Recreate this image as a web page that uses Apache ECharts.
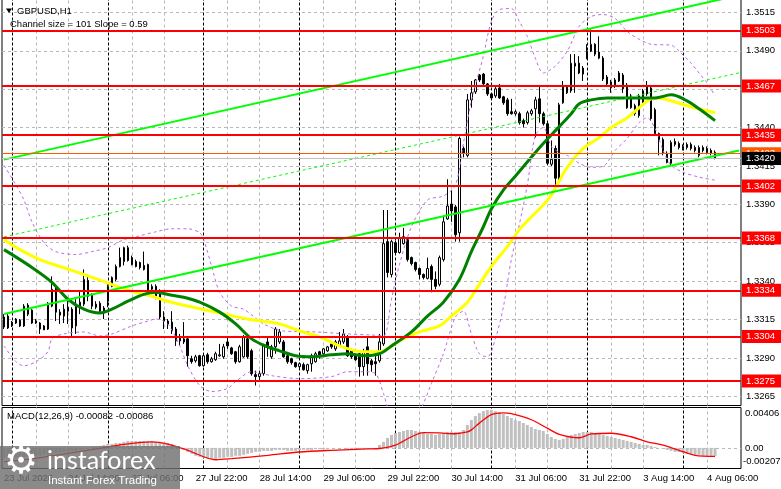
<!DOCTYPE html>
<html><head><meta charset="utf-8">
<script src="https://cdn.jsdelivr.net/npm/echarts@6/dist/echarts.min.js"></script>
<style>html,body{margin:0;padding:0;background:#fff}#c{width:781px;height:489px}</style>
</head><body><div id="c"></div>
<script>
// ---------- data ----------
const days = [['23 Jul',22,23],['24 Jul',0,23],['27 Jul',0,23],['28 Jul',0,23],['29 Jul',0,23],['30 Jul',0,23],['31 Jul',0,23],['3 Aug',0,23],['4 Aug',0,8]];
const emptySlots = 6;
const xTickTimes = ['23 Jul 22:00','24 Jul 14:00','27 Jul 06:00','27 Jul 22:00','28 Jul 14:00','29 Jul 06:00','29 Jul 22:00','30 Jul 14:00','31 Jul 06:00','31 Jul 22:00','3 Aug 14:00','4 Aug 06:00'];
const firstTickText = '23 Jul 2026';
const priceTicks = [1.3265,1.3290,1.3315,1.3340,1.3365,1.3390,1.3415,1.3440,1.3465,1.3490,1.3515];
const levels = [1.3503,1.3467,1.3435,1.3402,1.3368,1.3334,1.3304,1.3275];
const askPrice = 1.3423;
const macdTicks = [-0.00207, 0, 0.00406];

const opens = [1.33166,1.33172,1.33108,1.33127,1.33146,1.33108,1.33243,1.33211,1.33140,1.33127,
1.33108,1.33088,1.33237,1.33360,1.33198,1.33172,1.33230,1.33217,1.33108,1.33237,
1.33250,1.33405,1.33308,1.33250,1.33256,1.33224,1.33269,1.33366,1.33411,1.33495,
1.33527,1.33534,1.33553,1.33527,1.33521,1.33502,1.33508,1.33347,1.33366,1.33334,
1.33166,1.33140,1.33133,1.33088,1.33037,1.33004,1.33024,1.32894,1.32881,1.32914,
1.32849,1.32920,1.32875,1.32888,1.32914,1.32907,1.33004,1.32965,1.32940,1.32875,
1.32907,1.33024,1.32946,1.32791,1.32778,1.32797,1.33004,1.32907,1.32972,1.33004,
1.33004,1.32914,1.32894,1.32869,1.32843,1.32856,1.32817,1.32862,1.32875,1.32940,
1.32927,1.32946,1.32991,1.32959,1.32978,1.33004,1.33037,1.32946,1.32914,1.32927,
1.32843,1.32972,1.32881,1.32875,1.32881,1.32991,1.33657,1.33443,1.33650,1.33586,
1.33644,1.33670,1.33553,1.33521,1.33482,1.33443,1.33418,1.33495,1.33411,1.33379,
1.33540,1.33805,1.33902,1.33883,1.33715,1.34264,1.34219,1.34580,1.34632,1.34742,
1.34748,1.34684,1.34619,1.34606,1.34658,1.34600,1.34580,1.34503,1.34490,1.34490,
1.34445,1.34432,1.34490,1.34522,1.34587,1.34490,1.34425,1.34161,1.34264,1.34057,
1.34561,1.34626,1.34639,1.34800,1.34819,1.34787,1.34852,1.34897,1.34942,1.34891,
1.34852,1.34729,1.34697,1.34671,1.34703,1.34742,1.34677,1.34606,1.34542,1.34477,
1.34561,1.34619,1.34658,1.34516,1.34361,1.34322,1.34232,1.34167,1.34290,1.34296,
1.34264,1.34270,1.34290,1.34270,1.34219,1.34270,1.34264,1.34251,1.34238];
const closes = [1.33101,1.33095,1.33133,1.33153,1.33108,1.33237,1.33185,1.33127,1.33127,1.33088,
1.33082,1.33256,1.33347,1.33198,1.33179,1.33217,1.33204,1.33095,1.33250,1.33263,
1.33411,1.33301,1.33237,1.33230,1.33204,1.33204,1.33366,1.33424,1.33495,1.33553,
1.33618,1.33618,1.33508,1.33495,1.33489,1.33476,1.33334,1.33366,1.33295,1.33166,
1.33140,1.33121,1.33075,1.33011,1.33011,1.33024,1.32914,1.32875,1.32907,1.32849,
1.32914,1.32875,1.32894,1.32927,1.32920,1.32972,1.32978,1.32927,1.32875,1.32972,
1.33037,1.32907,1.32797,1.32778,1.32797,1.32978,1.32972,1.32972,1.33088,1.33069,
1.32907,1.32875,1.32869,1.32843,1.32862,1.32823,1.32856,1.32914,1.32927,1.32907,
1.32959,1.32972,1.32972,1.33004,1.33011,1.33056,1.32914,1.32907,1.32888,1.32843,
1.32940,1.32862,1.32856,1.32862,1.33004,1.33644,1.33456,1.33657,1.33586,1.33683,
1.33689,1.33540,1.33514,1.33476,1.33443,1.33424,1.33482,1.33411,1.33366,1.33553,
1.33786,1.33889,1.33857,1.33702,1.34329,1.34232,1.34580,1.34626,1.34710,1.34710,
1.34684,1.34619,1.34593,1.34652,1.34593,1.34561,1.34490,1.34490,1.34503,1.34432,
1.34425,1.34496,1.34509,1.34580,1.34490,1.34425,1.34167,1.34193,1.34070,1.34548,
1.34671,1.34664,1.34819,1.34819,1.34755,1.34748,1.34897,1.34942,1.34878,1.34852,
1.34716,1.34684,1.34658,1.34710,1.34755,1.34652,1.34529,1.34529,1.34490,1.34606,
1.34639,1.34664,1.34458,1.34361,1.34316,1.34232,1.34173,1.34303,1.34309,1.34270,
1.34277,1.34290,1.34264,1.34251,1.34270,1.34251,1.34238,1.34232,1.34199];
const lows = [1.33088,1.33088,1.33101,1.33121,1.33101,1.33101,1.33172,1.33121,1.33121,1.33056,
1.33082,1.33082,1.33230,1.33140,1.33121,1.33127,1.33121,1.33037,1.33056,1.33185,
1.33237,1.33269,1.33217,1.33217,1.33192,1.33153,1.33230,1.33360,1.33398,1.33489,
1.33502,1.33527,1.33502,1.33489,1.33476,1.33469,1.33327,1.33334,1.33282,1.33153,
1.33088,1.33088,1.33056,1.32978,1.32978,1.32991,1.32843,1.32862,1.32869,1.32843,
1.32843,1.32862,1.32869,1.32881,1.32907,1.32894,1.32959,1.32920,1.32862,1.32869,
1.32901,1.32894,1.32784,1.32720,1.32752,1.32784,1.32907,1.32894,1.32927,1.32991,
1.32901,1.32862,1.32856,1.32836,1.32830,1.32817,1.32797,1.32810,1.32869,1.32894,
1.32920,1.32940,1.32959,1.32946,1.32972,1.32991,1.32907,1.32894,1.32881,1.32778,
1.32784,1.32784,1.32810,1.32784,1.32869,1.32978,1.33424,1.33424,1.33573,1.33579,
1.33637,1.33527,1.33502,1.33463,1.33411,1.33411,1.33411,1.33327,1.33347,1.33366,
1.33527,1.33799,1.33786,1.33657,1.33657,1.34206,1.34206,1.34529,1.34619,1.34697,
1.34671,1.34606,1.34580,1.34593,1.34587,1.34548,1.34477,1.34484,1.34477,1.34419,
1.34400,1.34419,1.34477,1.34335,1.34432,1.34413,1.34154,1.34148,1.33993,1.34012,
1.34555,1.34619,1.34626,1.34626,1.34748,1.34703,1.34845,1.34891,1.34865,1.34845,
1.34703,1.34671,1.34626,1.34658,1.34697,1.34626,1.34522,1.34522,1.34477,1.34464,
1.34555,1.34606,1.34445,1.34348,1.34219,1.34219,1.34167,1.34154,1.34277,1.34257,
1.34251,1.34257,1.34251,1.34238,1.34206,1.34238,1.34225,1.34219,1.34193];
const highs = [1.33185,1.33185,1.33140,1.33159,1.33153,1.33250,1.33256,1.33217,1.33153,1.33133,
1.33114,1.33263,1.33431,1.33366,1.33217,1.33250,1.33282,1.33230,1.33282,1.33334,
1.33476,1.33443,1.33321,1.33269,1.33269,1.33237,1.33379,1.33431,1.33508,1.33618,
1.33624,1.33631,1.33566,1.33540,1.33527,1.33592,1.33514,1.33379,1.33379,1.33347,
1.33204,1.33153,1.33204,1.33101,1.33056,1.33133,1.33037,1.32914,1.32920,1.32920,
1.32927,1.32933,1.32907,1.32940,1.32991,1.32991,1.33037,1.32972,1.32946,1.32985,
1.33049,1.33043,1.32959,1.32817,1.32817,1.32991,1.33037,1.32985,1.33101,1.33088,
1.33017,1.32927,1.32901,1.32875,1.32869,1.32869,1.32862,1.32927,1.32940,1.32946,
1.32965,1.32978,1.32998,1.33017,1.33069,1.33088,1.33049,1.32959,1.32927,1.32940,
1.32959,1.33037,1.32894,1.32940,1.33056,1.33863,1.33863,1.33670,1.33663,1.33715,
1.33747,1.33683,1.33560,1.33527,1.33489,1.33450,1.33553,1.33508,1.33463,1.33566,
1.33818,1.34063,1.33993,1.33896,1.34341,1.34277,1.34619,1.34703,1.34716,1.34748,
1.34755,1.34690,1.34626,1.34664,1.34684,1.34606,1.34593,1.34587,1.34516,1.34503,
1.34458,1.34509,1.34522,1.34600,1.34671,1.34503,1.34445,1.34316,1.34283,1.34561,
1.34703,1.34677,1.34878,1.34878,1.34865,1.34800,1.34942,1.35039,1.34949,1.34994,
1.34865,1.34742,1.34710,1.34723,1.34768,1.34755,1.34690,1.34619,1.34555,1.34619,
1.34652,1.34703,1.34671,1.34529,1.34367,1.34335,1.34245,1.34316,1.34329,1.34309,
1.34290,1.34303,1.34303,1.34283,1.34283,1.34283,1.34277,1.34264,1.34251];

// moving averages / bands read at sample bars: [bar, price]
const maGreen = [[0,1.33605],[7,1.33489],[12,1.33392],[16,1.33282],[20,1.33217],[24,1.33192],[27,1.33217],[31,1.33269],[35,1.33314],[38,1.33327],[42,1.33308],[45,1.33295],[49,1.33263],[54,1.33198],[58,1.33121],[62,1.33024],[66,1.32972],[69,1.32946],[73,1.32914],[77,1.32907],[82,1.32920],[86,1.32927],[90,1.32914],[94,1.32927],[97,1.32978],[102,1.33069],[106,1.33172],[110,1.33263],[114,1.33411],[117,1.33592],[120,1.33754],[122,1.33870],[125,1.33993],[128,1.34083],[132,1.34206],[135,1.34296],[139,1.34406],[142,1.34490],[144,1.34555],[147,1.34580],[151,1.34593],[155,1.34593],[159,1.34593],[163,1.34593],[167,1.34613],[171,1.34574],[174,1.34522],[178,1.34445]];
const maYellow = [[0,1.33670],[4,1.33605],[9,1.33540],[14,1.33495],[20,1.33443],[27,1.33379],[32,1.33334],[37,1.33301],[41,1.33269],[45,1.33243],[52,1.33204],[61,1.33153],[69,1.33121],[74,1.33075],[79,1.33037],[84,1.32978],[90,1.32940],[94,1.32940],[99,1.33011],[104,1.33069],[109,1.33108],[112,1.33172],[116,1.33263],[119,1.33379],[122,1.33495],[126,1.33624],[129,1.33734],[132,1.33818],[135,1.33896],[137,1.33960],[141,1.34141],[145,1.34264],[149,1.34335],[152,1.34400],[156,1.34464],[159,1.34529],[162,1.34587],[164,1.34593],[167,1.34574],[172,1.34535],[178,1.34496]];
const bandUpper = [[0,1.34154],[3,1.34025],[5,1.33928],[7,1.33786],[10,1.33650],[13,1.33592],[18,1.33573],[22,1.33592],[26,1.33618],[30,1.33670],[34,1.33695],[38,1.33721],[42,1.33741],[46,1.33741],[49,1.33715],[50,1.33670],[52,1.33495],[54,1.33327],[57,1.33237],[60,1.33217],[65,1.33121],[70,1.33075],[78,1.33069],[86,1.33056],[92,1.33049],[95,1.33043],[97,1.33282],[99,1.33508],[102,1.33754],[106,1.33928],[110,1.33954],[113,1.34025],[115,1.34296],[117,1.34574],[120,1.34865],[122,1.35091],[124,1.35168],[127,1.35175],[129,1.35091],[131,1.34994],[133,1.34852],[135,1.34755],[138,1.34800],[141,1.34897],[144,1.35059],[147,1.35123],[150,1.35136],[153,1.35110],[156,1.35026],[159,1.34975],[162,1.34942],[167,1.34936],[169,1.34897],[172,1.34819],[174,1.34755],[176,1.34690],[178,1.34606]];
const bandLower = [[0,1.32978],[3,1.32875],[5,1.32849],[8,1.32875],[11,1.32940],[12,1.33024],[15,1.33056],[20,1.33069],[24,1.33043],[27,1.33056],[32,1.33108],[36,1.33140],[38,1.33153],[41,1.33121],[44,1.32978],[46,1.32849],[49,1.32720],[52,1.32681],[56,1.32701],[58,1.32746],[62,1.32810],[67,1.32784],[74,1.32765],[82,1.32778],[86,1.32810],[90,1.32810],[93,1.32797],[95,1.32668],[97,1.32507],[100,1.32442],[103,1.32507],[105,1.32604],[107,1.32733],[110,1.32927],[113,1.33166],[115,1.33204],[117,1.33056],[119,1.32927],[121,1.32907],[123,1.33024],[125,1.33230],[127,1.33540],[129,1.33767],[131,1.34025],[133,1.34348],[135,1.34400],[137,1.34277],[139,1.34238],[141,1.34219],[144,1.34167],[147,1.34141],[150,1.34148],[153,1.34251],[156,1.34329],[159,1.34432],[161,1.34464],[163,1.34393],[165,1.34251],[167,1.34154],[170,1.34109],[174,1.34077],[178,1.34057]];
const channelUpper = [[0,1.34191],[184,1.35261]];
const channelMid = [[0,1.33688],[184,1.34756]];
const channelLower = [[0,1.33186],[184,1.34251]];

const macdHist = [-0.0010,-0.0010,-0.0010,-0.0010,-0.0009,-0.0009,-0.0009,-0.0008,-0.0008,-0.0008,-0.0007,-0.0007,-0.0006,-0.0005,-0.0005,-0.0004,-0.0004,-0.0003,-0.0003,-0.0002,-0.0001,0.0000,0.0001,0.0001,0.0002,0.0003,0.0004,0.0004,0.0005,
0.0005,0.0006,0.0007,0.0007,0.0007,0.0007,0.0007,0.0007,
0.0007,0.0006,0.0006,0.0005,0.0005,0.0004,0.0002,
0.0000,-0.0002,-0.0004,-0.0006,-0.0008,-0.0009,-0.0010,-0.0011,-0.0011,-0.0011,
-0.0010,-0.0010,-0.0009,-0.0009,-0.0008,-0.0008,-0.0007,-0.0006,-0.0005,
-0.0004,-0.0004,-0.0003,-0.0003,-0.0003,-0.0002,-0.0002,-0.0002,-0.0003,-0.0003,-0.0003,-0.0002,
-0.0002,-0.0002,-0.0002,-0.0001,-0.0001,-0.0001,-0.0001,0.0000,0.0000,0.0000,0.0000,-0.0001,-0.0001,-0.0001,-0.0001,-0.0001,-0.0001,-0.0001,
0.0000,0.0003,0.0006,0.0010,0.0013,0.0015,0.0016,
0.0017,0.0018,0.0018,0.0017,0.0016,0.0015,0.0014,0.0014,0.0013,0.0014,0.0015,0.0016,0.0016,0.0016,0.0016,0.0018,
0.0023,0.0028,0.0032,0.0035,0.0037,0.0038,0.0038,
0.0037,0.0036,0.0034,0.0032,0.0030,0.0028,0.0027,0.0025,0.0023,0.0021,
0.0019,0.0018,0.0017,0.0014,0.0011,0.0009,0.0008,0.0009,0.0011,
0.0013,0.0014,0.0015,0.0016,0.0016,0.0016,0.0015,0.0014,0.0013,0.0012,0.0011,
0.0010,0.0009,0.0008,0.0007,0.0006,0.0005,0.0004,0.0003,0.0003,0.0002,0.0001,0.0000,-0.0001,
-0.0002,-0.0003,-0.0004,-0.0004,-0.0005,-0.0006,-0.0006,-0.0007,-0.0007,-0.0008,-0.0008,-0.0008,-0.00082];
const macdSignal = [[0,-0.00140],[7,-0.00110],[16,-0.00055],[24,-0.00005],[30,0.00035],[37,0.00061],[41,0.00038],[46,-0.00024],[53,-0.00119],[57,-0.00108],[66,-0.00075],[74,-0.00041],[82,-0.00024],[91,-0.00010],[94,-0.00006],[98,0.00028],[102,0.00112],[105,0.00153],[109,0.00150],[113,0.00142],[116,0.00160],[117,0.00181],[119,0.00249],[122,0.00334],[125,0.00352],[127,0.00344],[132,0.00283],[136,0.00198],[139,0.00137],[144,0.00102],[147,0.00140],[152,0.00147],[157,0.00112],[161,0.00061],[165,0.00028],[169,-0.00024],[173,-0.00075],[178,-0.00086]];

// ---------- build ----------
const FONT = "'Liberation Sans',Arial,sans-serif";
const FS = 9.5;
const cats = [];
days.forEach(([d,h0,h1]) => { for (let h=h0; h<=h1; h++) cats.push(d + ' ' + String(h).padStart(2,'0') + ':00'); });
for (let i=0;i<emptySlots;i++) cats.push('_' + i);
const tickSet = new Set(xTickTimes);
const ohlc = opens.map((o,i) => [o, closes[i], lows[i], highs[i]]);
const lastClose = closes[closes.length-1];
const sepCats = cats.filter(c => c.endsWith(' 00:00'));
const gridCats = cats.filter(c => c.endsWith(' 06:00') || c.endsWith(' 14:00'));
const vLines = sepCats.map(c => ({xAxis: c, lineStyle:{color:'#000', type:[3,2], width:1}}))
  .concat(gridCats.map(c => ({xAxis: c, lineStyle:{color:'#b8b8b8', type:[3,3], width:1}})));
const hLines = priceTicks.map(v => ({yAxis: v, lineStyle:{color:'#b8b8b8', type:[3,3], width:1}}));
const near = (a,b) => Math.abs(a-b) < 1e-7;
const macdTitle = 'MACD(12,26,9) ' + macdHist[macdHist.length-1].toFixed(5) + ' ' + macdSignal[macdSignal.length-1][1].toFixed(5);

const chart = echarts.init(document.getElementById('c'), null, {renderer:'canvas'});
const lblFont = {fontFamily: FONT, fontSize: FS, color:'#000'};
const boxLabel = {show:true, position:'end', distance:1, formatter: p => Number(p.value).toFixed(4), color:'#fff', padding:[2,6,1,4], fontSize:FS, lineHeight:10, fontFamily:FONT};
chart.setOption({
  animation: false,
  backgroundColor: '#fff',
  textStyle: {fontFamily: FONT},
  grid: [
    {left: 2, top: -1, width: 739, height: 406.5, show: true, borderColor:'#000', borderWidth:1, backgroundColor:'transparent', containLabel:false, outerBoundsMode:'none'},
    {left: 2, top: 407.5, width: 739, height: 61, show: true, borderColor:'#000', borderWidth:1, backgroundColor:'transparent', containLabel:false, outerBoundsMode:'none'}
  ],
  xAxis: [
    {type:'category', gridIndex:0, data: cats, boundaryGap:true, axisLine:{show:false}, axisTick:{show:false}, axisLabel:{show:false}, splitLine:{show:false}},
    {type:'category', gridIndex:1, data: cats, boundaryGap:true, axisLine:{show:false}, axisTick:{show:false}, splitLine:{show:false},
      axisLabel: Object.assign({show:true, interval:(i,v) => tickSet.has(v), formatter: v => v === xTickTimes[0] ? firstTickText : v, align:'left', margin:5}, lblFont)}
  ],
  yAxis: [
    {type:'value', gridIndex:0, position:'right', min:1.3259, max:1.35237, interval:0.0001,
      axisLine:{show:false}, axisTick:{show:false}, splitLine:{show:false},
      axisLabel: Object.assign({margin:5, formatter: v => priceTicks.some(t => near(t,v)) ? v.toFixed(4) : ''}, lblFont)},
    {type:'value', gridIndex:1, position:'right', min:macdTicks[0], max:macdTicks[2], interval:-macdTicks[0],
      axisLine:{show:false}, axisTick:{show:false}, splitLine:{show:false},
      axisLabel: Object.assign({margin:2,
        formatter: v => near(v,macdTicks[2]) ? '{t|' + v.toFixed(5) + '}' : (near(v,0) ? '{z|0.00}' : (near(v,macdTicks[0]) ? '{b|' + v.toFixed(5) + '}' : '')),
        rich: {t:{padding:[11,0,0,2], fontFamily:FONT, fontSize:FS, color:'#000'}, z:{padding:[0,0,0,2], fontFamily:FONT, fontSize:FS, color:'#000'}, b:{padding:[0,0,14,0], fontFamily:FONT, fontSize:FS, color:'#000'}}}, lblFont)}
  ],
  series: [
    {type:'candlestick', xAxisIndex:0, yAxisIndex:0, data: ohlc, barWidth: 2,
      itemStyle:{color:'#fff', color0:'#000', borderColor:'#000', borderColor0:'#000', borderWidth:1},
      markLine:{silent:true, symbol:'none', z:1, precision:6, label:{show:false}, animation:false, data: hLines.concat(vLines)}},
    {type:'line', xAxisIndex:0, yAxisIndex:0, data: bandUpper, showSymbol:false, smooth:0.3, lineStyle:{color:'#c06ae6', width:1, type:[3,3]}, z:3},
    {type:'line', xAxisIndex:0, yAxisIndex:0, data: bandLower, showSymbol:false, smooth:0.3, lineStyle:{color:'#c06ae6', width:1, type:[3,3]}, z:3},
    {type:'line', xAxisIndex:0, yAxisIndex:0, data: maYellow, showSymbol:false, smooth:0.35, lineStyle:{color:'#ffff00', width:3}, z:3},
    {type:'line', xAxisIndex:0, yAxisIndex:0, data: maGreen, showSymbol:false, smooth:0.35, lineStyle:{color:'#008000', width:3}, z:3},
    {type:'line', xAxisIndex:0, yAxisIndex:0, data: channelMid, showSymbol:false, lineStyle:{color:'#00ff00', width:1, type:[3,3]}, z:4},
    {type:'line', xAxisIndex:0, yAxisIndex:0, data: channelUpper, showSymbol:false, lineStyle:{color:'#00ff00', width:2}, z:4,
      markLine:{silent:true, symbol:'none', z:6, precision:6, animation:false, label: boxLabel,
        data:[
          {yAxis: askPrice, lineStyle:{color:'#ff5a00', width:1, type:'solid'}, label:{backgroundColor:'#ff5a00'}},
          {yAxis: lastClose, lineStyle:{color:'#c0c0c0', width:1, type:'solid'}, label:{backgroundColor:'#000'}}
        ]}},
    {type:'line', xAxisIndex:0, yAxisIndex:0, data: channelLower, showSymbol:false, lineStyle:{color:'#00ff00', width:2}, z:4,
      markLine:{silent:true, symbol:'none', z:5, precision:6, animation:false,
        lineStyle:{color:'#ff0000', width:2, type:'solid'},
        label: Object.assign({}, boxLabel, {backgroundColor:'#ff0000'}),
        data: levels.map(v => ({yAxis: v}))}},
    {type:'bar', xAxisIndex:1, yAxisIndex:1, data: macdHist, barWidth:3, itemStyle:{color:'#c0c0c0'}, z:2,
      markLine:{silent:true, symbol:'none', z:1, precision:6, label:{show:false}, animation:false,
        data: [{yAxis:0, lineStyle:{color:'#b8b8b8', type:[3,3], width:1}}].concat(vLines)}},
    {type:'line', xAxisIndex:1, yAxisIndex:1, data: macdSignal, showSymbol:false, smooth:0.3, lineStyle:{color:'#ff0000', width:1.3}, z:3}
  ],
  graphic: [
    {type:'polygon', z:100, shape:{points:[[6,8.5],[12,8.5],[9,13]]}, style:{fill:'#000'}},
    {type:'text', z:100, x:17, y:11, style:{text:'GBPUSD,H1', font:FS + 'px ' + FONT, fill:'#000', verticalAlign:'middle'}},
    {type:'text', z:100, x:10, y:24, style:{text:'Channel size = 101 Slope = 0.59', font:FS + 'px ' + FONT, fill:'#000', verticalAlign:'middle'}},
    {type:'text', z:100, x:7, y:416, style:{text: macdTitle, font:FS + 'px ' + FONT, fill:'#000', verticalAlign:'middle'}},
    {type:'rect', z:100, shape:{x:0, y:446, width:180, height:43}, style:{fill:'rgba(112,112,112,0.82)'}},
    {type:'text', z:101, x:4, y:463, style:{text:'\u2699', font:'38px "DejaVu Sans"', fill:'#fff', verticalAlign:'middle'}},
    {type:'text', z:101, x:47, y:461, style:{text:'instaforex', font:'25px Lato', fill:'#fff', verticalAlign:'middle'}},
    {type:'text', z:101, x:48, y:481, style:{text:'Instant Forex Trading', font:'11.5px ' + FONT, fill:'#fff', verticalAlign:'middle'}}
  ]
});
</script>
</body></html>
